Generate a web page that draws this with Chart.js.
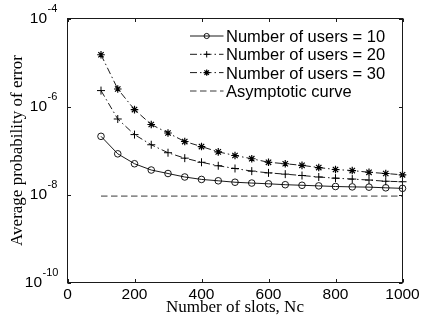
<!DOCTYPE html>
<html>
<head>
<meta charset="utf-8">
<script src="https://cdn.jsdelivr.net/npm/chart.js@4.4.1/dist/chart.umd.min.js"></script>
<style>
  html, body { margin: 0; padding: 0; background: #fff; }
  #wrap { width: 422px; height: 325px; }
</style>
</head>
<body>
<div id="wrap"><canvas id="c" width="422" height="325"></canvas></div>
<script>
// Number of slots (x positions of the markers)
const slots = [100, 150, 200, 250, 300, 350, 400, 450, 500, 550, 600, 650, 700, 750, 800, 850, 900, 950, 1000];

// Average probability of error for each user count
const users10 = [2.1e-7, 8.4e-8, 5.0e-8, 3.6e-8, 3.0e-8, 2.5e-8, 2.2e-8, 2.05e-8, 1.9e-8, 1.82e-8,
                 1.75e-8, 1.67e-8, 1.62e-8, 1.57e-8, 1.52e-8, 1.49e-8, 1.47e-8, 1.42e-8, 1.38e-8];
const users20 = [2.3e-6, 5.2e-7, 2.3e-7, 1.35e-7, 8.9e-8, 6.7e-8, 5.4e-8, 4.5e-8, 3.9e-8, 3.4e-8,
                 3.1e-8, 2.9e-8, 2.7e-8, 2.5e-8, 2.35e-8, 2.24e-8, 2.13e-8, 2.0e-8, 1.95e-8];
const users30 = [1.5e-5, 2.5e-6, 8.5e-7, 3.9e-7, 2.5e-7, 1.6e-7, 1.23e-7, 9.3e-8, 7.7e-8, 6.5e-8,
                 5.4e-8, 5.0e-8, 4.6e-8, 4.1e-8, 3.7e-8, 3.5e-8, 3.2e-8, 3.0e-8, 2.8e-8];

// Asymptotic curve (flat level over the slot range)
const asymSlots = [100, 1000];
const asymValues = [9.2e-9, 9.2e-9];

// Axis ticks
const xTicks = [0, 200, 400, 600, 800, 1000];
const yTickExponents = [-10, -8, -6, -4];

const seriesLabels = ['Number of users = 10', 'Number of users = 20', 'Number of users = 30', 'Asymptotic curve'];

const pts = (xs, ys) => xs.map((x, i) => ({ x: x, y: ys[i] }));

const dashDot = [7, 3, 1.5, 3];
const dashed = [6.5, 3.5];

const datasets = [
  { label: seriesLabels[0], data: pts(slots, users10), borderColor: '#000', borderWidth: 0.9,
    pointStyle: 'circle', pointRadius: 3.3, pointBorderWidth: 0.9, pointBorderColor: '#000',
    pointBackgroundColor: 'rgba(0,0,0,0)', borderDash: [] },
  { label: seriesLabels[1], data: pts(slots, users20), borderColor: '#000', borderWidth: 0.9,
    pointStyle: 'cross', pointRadius: 4, pointBorderWidth: 1, pointBorderColor: '#000',
    borderDash: dashDot },
  { label: seriesLabels[2], data: pts(slots, users30), borderColor: '#000', borderWidth: 0.9,
    pointStyle: 'star', pointRadius: 3.8, pointBorderWidth: 1.2, pointBorderColor: '#000',
    borderDash: dashDot },
  { label: seriesLabels[3], data: pts(asymSlots, asymValues), borderColor: '#222', borderWidth: 0.9,
    pointRadius: 0, borderDash: dashed }
];

const sansFont = '"Liberation Sans", Arial, sans-serif';
const serifFont = '"Liberation Serif", "Times New Roman", serif';

// Axes box, inward ticks, tick labels (10 with superscript exponent), axis titles and legend
const axesPlugin = {
  id: 'axesDecor',
  afterDatasetsDraw(chart) {
    const ctx = chart.ctx;
    const a = chart.chartArea;
    const xs = chart.scales.x, ys = chart.scales.y;
    const tl = 3.5;
    ctx.save();
    ctx.strokeStyle = '#1a1a1a';
    ctx.lineWidth = 1;
    ctx.setLineDash([]);
    ctx.strokeRect(a.left, a.top, a.right - a.left, a.bottom - a.top);

    ctx.beginPath();
    xTicks.forEach(v => {
      const px = Math.round(xs.getPixelForValue(v)) + 0.5;
      ctx.moveTo(px, a.bottom); ctx.lineTo(px, a.bottom - tl);
      ctx.moveTo(px, a.top); ctx.lineTo(px, a.top + tl);
    });
    yTickExponents.forEach(e => {
      const py = Math.round(ys.getPixelForValue(Math.pow(10, e))) + 0.5;
      ctx.moveTo(a.left, py); ctx.lineTo(a.left + tl, py);
      ctx.moveTo(a.right, py); ctx.lineTo(a.right - tl, py);
    });
    ctx.stroke();

    // x tick labels
    ctx.fillStyle = '#000';
    ctx.font = '15.5px ' + sansFont;
    ctx.textAlign = 'center';
    ctx.textBaseline = 'alphabetic';
    xTicks.forEach(v => {
      ctx.fillText(String(v), xs.getPixelForValue(v), a.bottom + 16);
    });

    // y tick labels: "10" with a raised exponent
    yTickExponents.forEach(e => {
      const py = ys.getPixelForValue(Math.pow(10, e));
      const expText = String(e);
      const baseRight = a.left - 20.5 - 5 * (expText.length - 2);
      ctx.font = '15.5px ' + sansFont;
      ctx.textAlign = 'right';
      ctx.textBaseline = 'middle';
      ctx.fillText('10', baseRight, py + 0.5);
      ctx.font = '11px ' + sansFont;
      ctx.textAlign = 'left';
      ctx.fillText(expText, baseRight + 0.5, py - 9.5);
    });

    // axis titles
    ctx.font = '17px ' + serifFont;
    ctx.textAlign = 'center';
    ctx.textBaseline = 'alphabetic';
    ctx.fillText('Number of slots, Nc', (a.left + a.right) / 2, 312);
    ctx.save();
    ctx.translate(22, (a.top + a.bottom) / 2);
    ctx.rotate(-Math.PI / 2);
    ctx.fillText('Average probability of error', 0, 0);
    ctx.restore();

    // legend
    const rowY = [36, 54.3, 72.6, 91];
    const x0 = 190, x1 = 223.5, xm = 206.7;
    chart.data.datasets.forEach((ds, i) => {
      const y = rowY[i];
      ctx.strokeStyle = ds.borderColor;
      ctx.lineWidth = ds.borderWidth;
      ctx.setLineDash(ds.borderDash || []);
      ctx.beginPath();
      ctx.moveTo(x0, y); ctx.lineTo(x1, y);
      ctx.stroke();
      ctx.setLineDash([]);
      if (ds.pointRadius > 0) {
        ctx.strokeStyle = '#000';
        ctx.fillStyle = 'rgba(0,0,0,0)';
        ctx.lineWidth = ds.pointBorderWidth;
        Chart.helpers.drawPoint(ctx, {
          pointStyle: ds.pointStyle, radius: ds.pointStyle === 'circle' ? 2.6 : 3.2,
          borderWidth: ds.pointBorderWidth, rotation: 0
        }, xm, y);
      }
      ctx.fillStyle = '#000';
      ctx.font = '16.5px ' + sansFont;
      ctx.textAlign = 'left';
      ctx.textBaseline = 'alphabetic';
      ctx.fillText(ds.label, 226, y + 6);
    });
    ctx.restore();
  }
};

const bgPlugin = {
  id: 'whiteBg',
  beforeDraw(chart) {
    const ctx = chart.ctx;
    ctx.save();
    ctx.fillStyle = '#fff';
    ctx.fillRect(0, 0, chart.width, chart.height);
    ctx.restore();
  }
};

new Chart(document.getElementById('c'), {
  type: 'line',
  data: { datasets: datasets },
  options: {
    responsive: false,
    animation: false,
    devicePixelRatio: 1,
    layout: { padding: { left: 67.5, top: 18.5, right: 19.5, bottom: 42.5 } },
    elements: { line: { tension: 0 } },
    datasets: { line: { clip: 8 } },
    scales: {
      x: { type: 'linear', min: 0, max: 1000, display: false },
      y: { type: 'logarithmic', min: 1e-10, max: 1e-4, display: false }
    },
    plugins: { legend: { display: false }, tooltip: { enabled: false } }
  },
  plugins: [bgPlugin, axesPlugin]
});
</script>
</body>
</html>
